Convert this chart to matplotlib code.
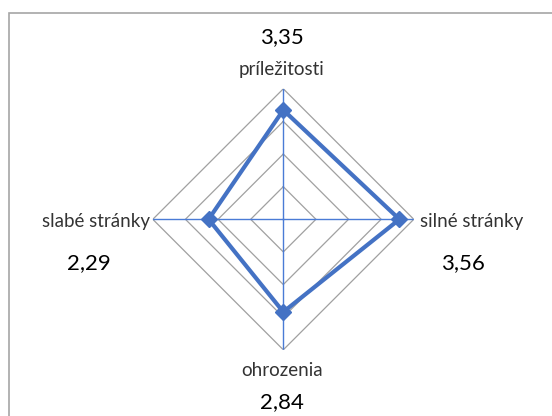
import numpy as np
import matplotlib
matplotlib.use('Agg')
from matplotlib import pyplot as plt
from matplotlib.patches import Rectangle

# SWOT scores
categories = ['príležitosti', 'silné stránky', 'ohrozenia', 'slabé stránky']
values = [3.35, 3.56, 2.84, 2.29]
grid_levels = [1, 2, 3, 4]
r_max = 4

blue = '#4472C4'
grid_grey = '#A0A0A0'

plt.rcParams['font.family'] = ['Lato', 'DejaVu Sans']

fig = plt.figure(figsize=(5.52, 4.16), dpi=100)

# outer chart border (right/bottom run off the picture)
fig.patches.append(Rectangle((8.7 / 552, -0.1), 1.2, 1.1 - 12.7 / 416,
                             transform=fig.transFigure, fill=False,
                             edgecolor='#A6A6A6', linewidth=1.2))

# polar axes centered on the radar
cx, cy, rad = 283.3 / 552, 1 - 219.3 / 416, 130.5
w, h = rad / 552, rad / 416
ax = fig.add_axes([cx - w, cy - h, 2 * w, 2 * h], projection='polar')
ax.set_theta_zero_location('N')
ax.set_theta_direction(-1)
ax.set_ylim(0, r_max)
ax.grid(False)
ax.set_xticks([])
ax.set_yticks([])
ax.spines['polar'].set_visible(False)
ax.patch.set_alpha(0)

theta = np.arange(len(categories)) * 2 * np.pi / len(categories)
theta_closed = np.append(theta, theta[0])

# diamond grid
for lvl in grid_levels:
    ax.plot(theta_closed, [lvl] * len(theta_closed), color=grid_grey,
            linewidth=0.9, zorder=1)
# spokes
for t in theta:
    ax.plot([t, t], [0, r_max], color='#4A7BD6', linewidth=1.0, zorder=2)

vals_closed = values + values[:1]
ax.plot(theta_closed, vals_closed, color=blue, linewidth=3.0, zorder=3,
        marker='D', markersize=8, markevery=range(len(values)))

def fmt(v):
    return ('%.2f' % v).replace('.', ',')

# label positions (pixels): category label, value label
cat_pos = [(282, 70, 'center'), (420, 221, 'left'), (282, 371, 'center'), (150, 221, 'right')]
val_pos = [(282, 37), (463, 263), (282, 402), (89, 263)]

for cat, v, (lx, ly, ha), (vx, vy) in zip(categories, values, cat_pos, val_pos):
    fig.text(lx / 552, 1 - ly / 416, cat, ha=ha, va='center',
             fontsize=13.5, color='#333333')
    fig.text(vx / 552, 1 - vy / 416, fmt(v), ha='center', va='center',
             fontsize=16, color='#000000')

fig.savefig('out.png', dpi=100)
